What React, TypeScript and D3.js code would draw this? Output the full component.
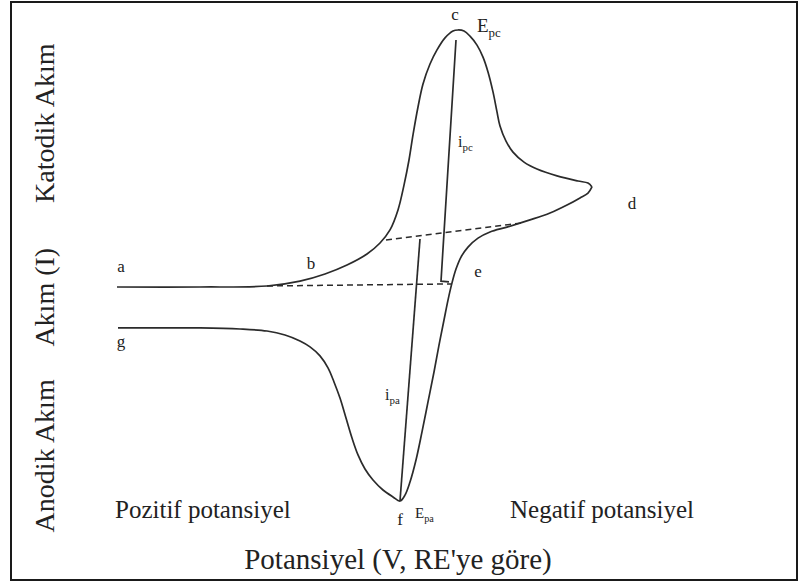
import React from 'react';
import * as d3 from 'd3';

// Cyclic voltammogram: potential E (mV, decreasing to the right), current i (µA, cathodic up)
const forwardScan: [number, number][] = [
  [796, 0], [630, 0], [496, 0.4], [430, 2.3], [380, 5.1], [336, 8.6], [296, 12.9],
  [270, 17.2], [250, 22.3], [234, 30.1], [222, 39.8], [212, 49.6], [204, 59.4],
  [194, 70.3], [184, 79.3], [170, 87.1], [156, 92.6], [140, 97.3], [124, 100],
  [114, 100.4], [102, 100], [90, 98.0], [76, 94.5], [64, 89.8], [54, 84.0],
  [44, 76.2], [36, 68.4], [30, 62.9], [18, 57.0], [4, 52.7], [-18, 48.8],
  [-44, 46.1], [-84, 43.4], [-126, 41.4], [-146, 40.6], [-154, 39.1],
];

const reverseScan: [number, number][] = [
  [-154, 39.1], [-146, 36.7], [-130, 34.8], [-104, 32.0], [-70, 28.9], [-30, 26.2],
  [16, 23.4], [50, 21.5], [74, 19.1], [94, 15.6], [108, 11.7], [118, 7.0],
  [126, 1.6], [134, -5.1], [142, -12.9], [152, -22.7], [162, -33.2], [174, -44.9],
  [186, -56.6], [198, -67.6], [210, -76.2], [220, -81.3], [230, -83.6], [244, -82.0],
  [264, -79.3], [284, -75.4], [300, -71.1], [314, -65.6], [326, -59.0], [338, -51.2],
  [350, -43.4], [362, -37.1], [374, -31.6], [390, -26.9], [410, -23.4], [430, -21.1],
  [460, -18.75], [496, -17.2], [550, -16.4], [630, -16.0], [794, -16.0],
];

// Extrapolated baselines used to measure the peak currents
const baselineLower: [number, number][] = [[496, 0.4], [128, 1.2]];
const baselineUpper: [number, number][] = [[258, 18.4], [-14, 25.0]];

// Peak current markers
const ipcMarker: [number, number][] = [[118, 96.5], [148, 2.3], [132, 2.0]];
const ipaMarker: [number, number][] = [[190, 18.75], [230, -83.6]];

// Letters along the scan
const pointLetters = ['a', 'b', 'c', 'd', 'e', 'f', 'g'];
const pointLetterE = [788, 408, 120, -234, 74, 230, 788];
const pointLetterI = [5.9, 7.0, 104.3, 30.5, 3.9, -93.0, -23.4];

// Peak quantities with subscripts
const peakMain = ['E', 'i', 'i', 'E'];
const peakSub = ['pc', 'pc', 'pa', 'pa'];
const peakE = [76, 114, 260, 200];
const peakI = [99.6, 54.7, -44.1, -90.2];

const axisTitleY = ['Katodik Akım', 'Akım (I)', 'Anodik Akım'];
const axisTitleYCurrent = [64, -4, -66];
const axisTitleX = 'Potansiyel (V, RE\'ye göre)';
const regionLabels = ['Pozitif potansiyel', 'Negatif potansiyel'];
const regionLabelE = [800, 10];

const W = 800;
const H = 586;
const serif = "'Liberation Serif', 'Times New Roman', Times, serif";
const ink = '#2b2b2b';

export default function App() {
  const x = d3.scaleLinear().domain([800, -160]).range([115, 595]);
  const y = d3.scaleLinear().domain([0, 100]).range([287, 31]);

  const smooth = d3
    .line<[number, number]>()
    .x((d) => x(d[0]))
    .y((d) => y(d[1]))
    .curve(d3.curveCatmullRom.alpha(0.5));
  const straight = d3
    .line<[number, number]>()
    .x((d) => x(d[0]))
    .y((d) => y(d[1]));

  const peakSizes = [19, 16, 16, 15];

  return (
    <svg
      width={W}
      height={H}
      viewBox={`0 0 ${W} ${H}`}
      style={{ position: 'absolute', left: 0, top: 0, background: '#fff' }}
    >
      <rect x={0} y={0} width={W} height={H} fill="#fff" />
      <rect x={11} y={2} width={786} height={578} fill="none" stroke="#1a1a1a" strokeWidth={2} />

      {/* baselines */}
      <path d={straight(baselineLower) || ''} fill="none" stroke={ink} strokeWidth={1.5} strokeDasharray="6 4" />
      <path d={straight(baselineUpper) || ''} fill="none" stroke={ink} strokeWidth={1.5} strokeDasharray="6 4" />

      {/* voltammogram */}
      <path d={smooth(forwardScan) || ''} fill="none" stroke={ink} strokeWidth={1.7} />
      <path d={smooth(reverseScan) || ''} fill="none" stroke={ink} strokeWidth={1.7} />

      {/* peak current markers */}
      <path d={straight(ipcMarker) || ''} fill="none" stroke={ink} strokeWidth={1.7} />
      <path d={straight(ipaMarker) || ''} fill="none" stroke={ink} strokeWidth={1.7} />

      <g style={{ fontFamily: serif }} fill="#222">
        {pointLetters.map((t, k) => (
          <text key={t} x={x(pointLetterE[k])} y={y(pointLetterI[k])} fontSize={17} textAnchor="middle">
            {t}
          </text>
        ))}
        {peakMain.map((t, k) => (
          <text key={k} x={x(peakE[k])} y={y(peakI[k])} fontSize={peakSizes[k]}>
            {t}
            <tspan fontSize={peakSizes[k] * 0.68} dy={peakSizes[k] * 0.28}>
              {peakSub[k]}
            </tspan>
          </text>
        ))}

        {axisTitleY.map((t, k) => (
          <text
            key={t}
            transform={`translate(54, ${y(axisTitleYCurrent[k])}) rotate(-90)`}
            fontSize={28}
            textAnchor="middle"
          >
            {t}
          </text>
        ))}

        {regionLabels.map((t, k) => (
          <text key={t} x={x(regionLabelE[k])} y={518} fontSize={25}>
            {t}
          </text>
        ))}

        <text x={398} y={569} fontSize={29} textAnchor="middle">
          {axisTitleX}
        </text>
      </g>
    </svg>
  );
}
